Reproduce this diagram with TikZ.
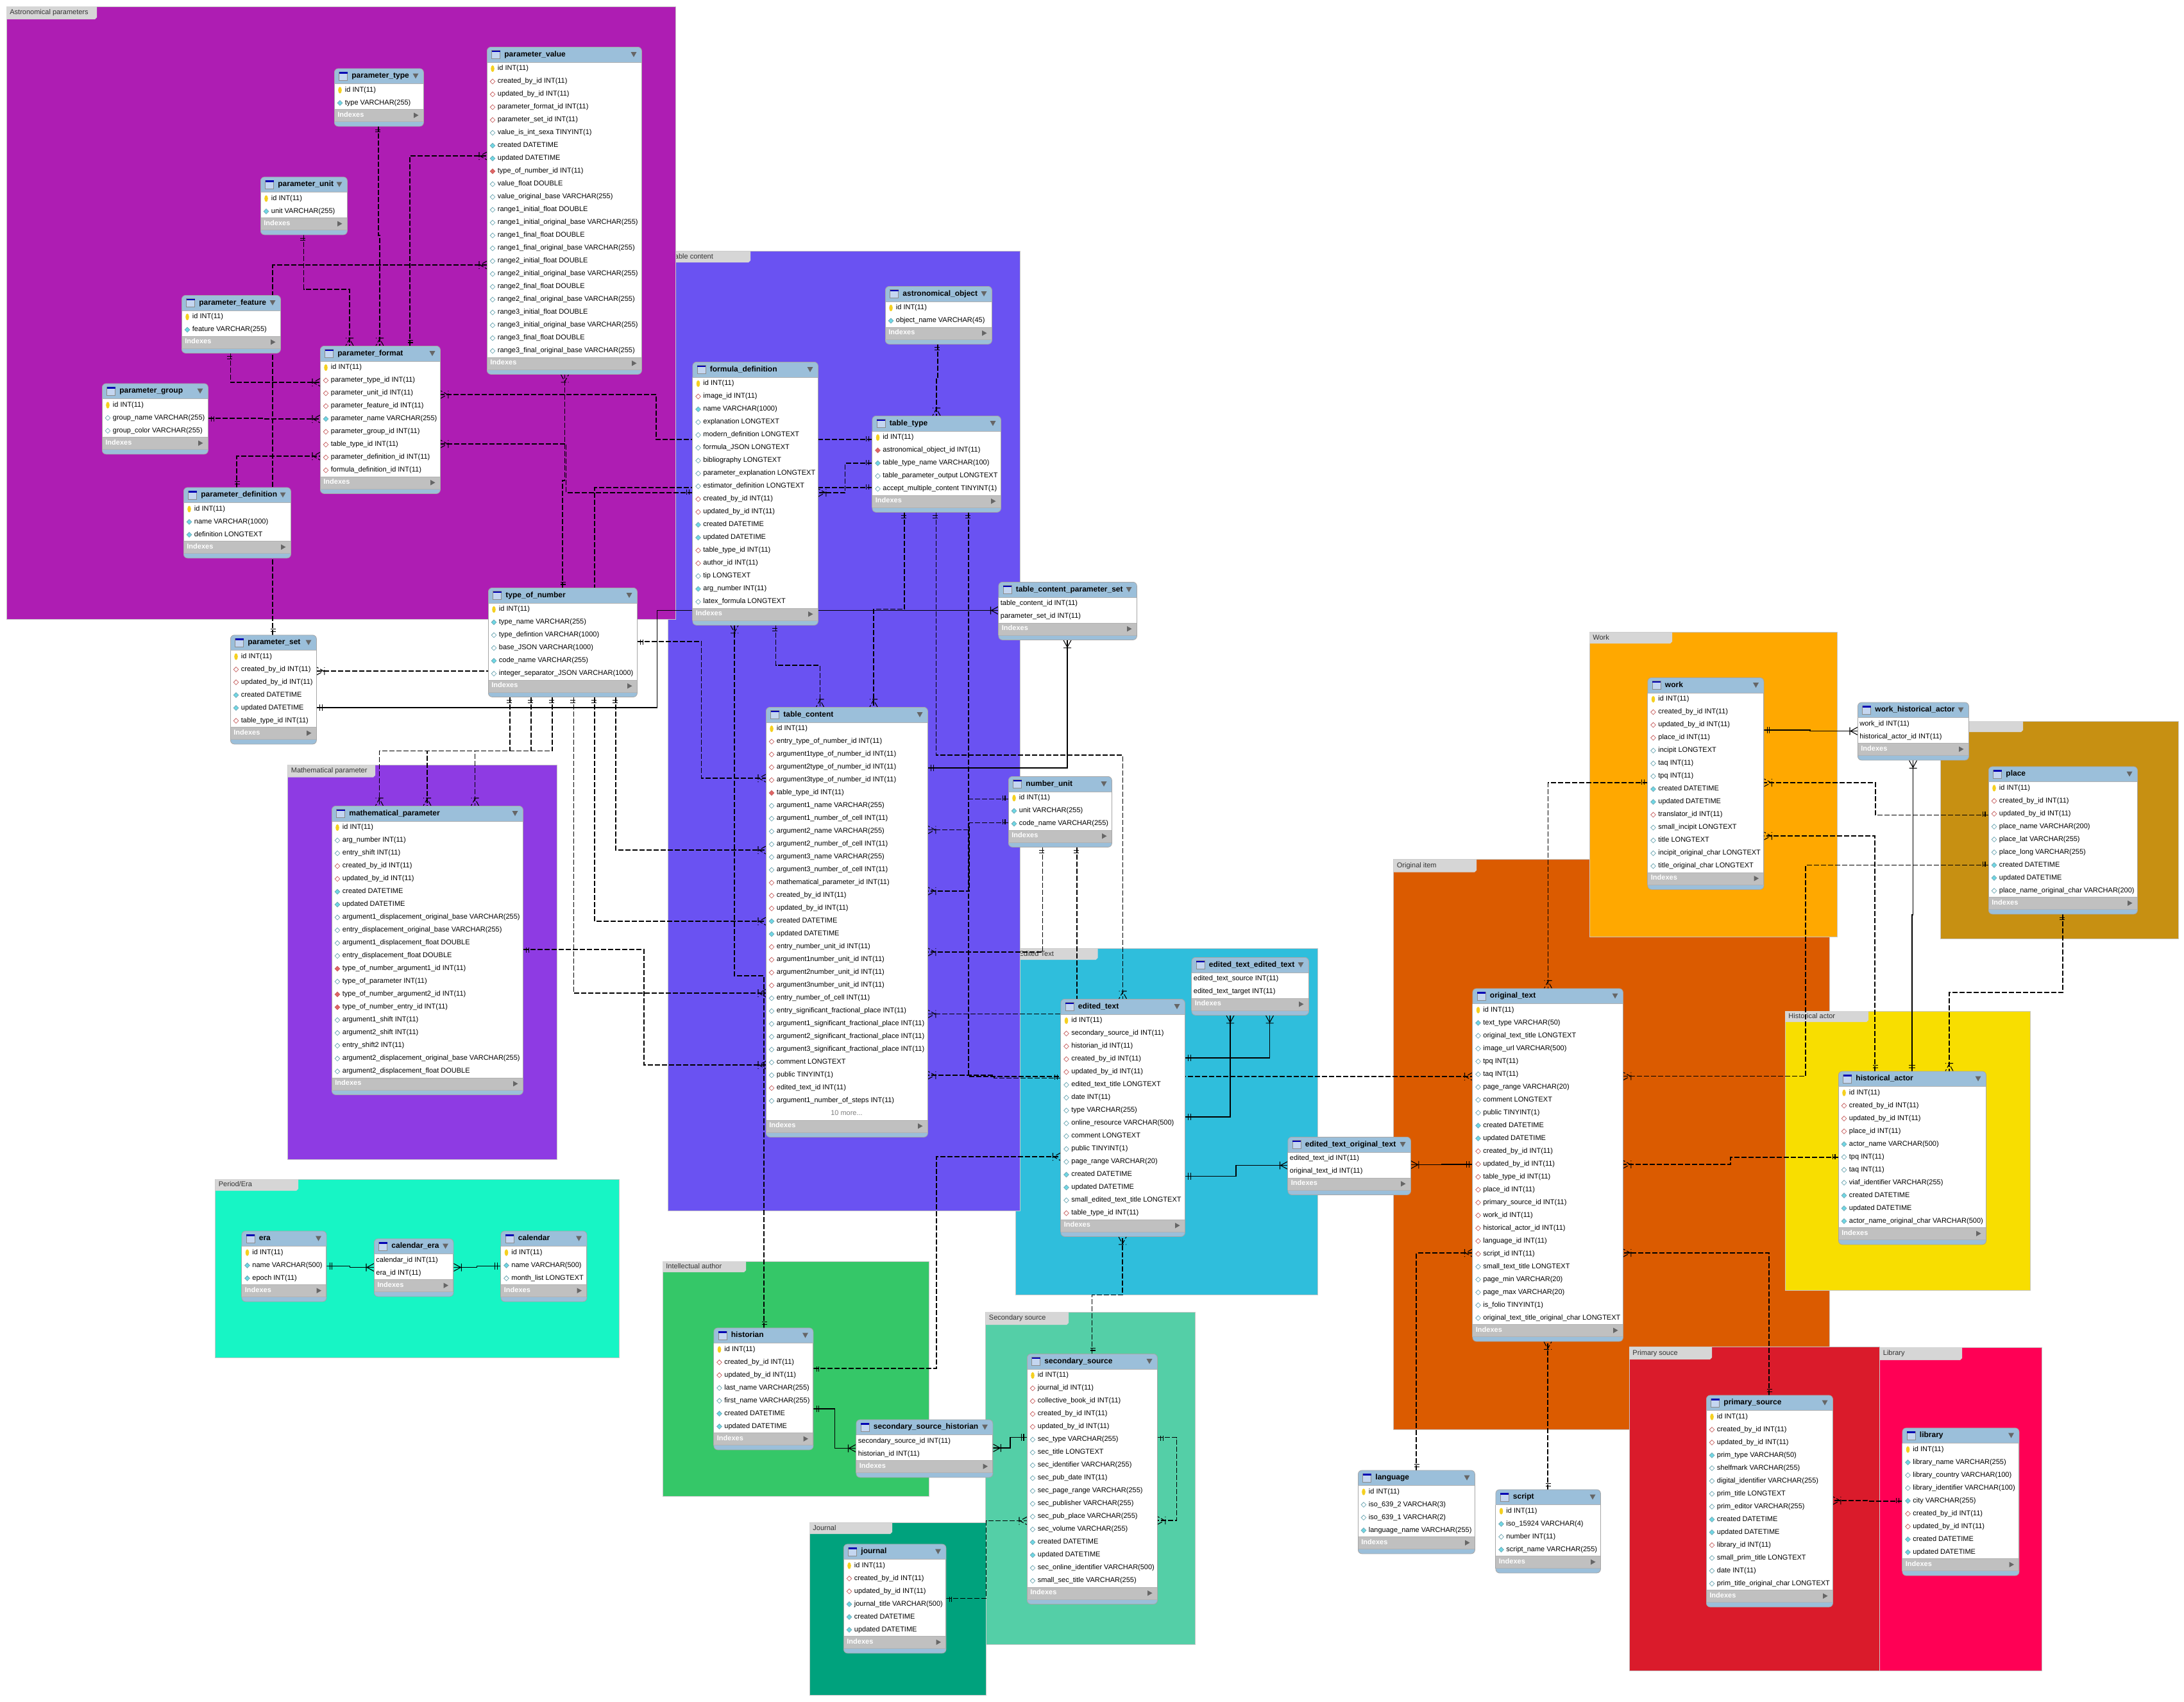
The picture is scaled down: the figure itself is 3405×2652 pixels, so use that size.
\documentclass[tikz,border=0pt]{standalone}
\usepackage{fontspec}
\setmainfont{Liberation Sans}
\usetikzlibrary{shapes.geometric}
\catcode`\_=12

\definecolor{astrocol}{HTML}{AE1DB3}
\definecolor{contentcol}{HTML}{6A52F2}
\definecolor{mathcol}{HTML}{8E3BE3}
\definecolor{eracol}{HTML}{17F5C5}
\definecolor{authorcol}{HTML}{35C768}
\definecolor{seccol}{HTML}{54CFA7}
\definecolor{journalcol}{HTML}{00A27D}
\definecolor{editedcol}{HTML}{2FBEDC}
\definecolor{origcol}{HTML}{DB5B00}
\definecolor{workcol}{HTML}{FFA800}
\definecolor{placecol}{HTML}{C79012}
\definecolor{actorcol}{HTML}{F8DE00}
\definecolor{primcol}{HTML}{DA1B2B}
\definecolor{libcol}{HTML}{FF0055}
\definecolor{headcol}{HTML}{9BBFDA}
\definecolor{idxcol}{HTML}{C0C0C0}
\definecolor{tabcol}{HTML}{D6D6D6}
\definecolor{keycol}{HTML}{F5D020}
\definecolor{fkcol}{HTML}{C86464}
\definecolor{fkfill}{HTML}{E06666}
\definecolor{nncol}{HTML}{6FA8B4}
\definecolor{nnfill}{HTML}{6FD9E6}
\definecolor{iconcol}{HTML}{C4D6F0}

\pgfdeclarelayer{grouplayer}
\pgfdeclarelayer{rellayer}
\pgfsetlayers{grouplayer,rellayer,main}

\pgfdeclarearrow{
  name=OneTip,
  setup code={\pgfarrowssettipend{0pt}\pgfarrowssetlineend{0pt}\pgfarrowssetbackend{-5pt}\pgfarrowssetvisualbackend{-5pt}},
  drawing code={
    \pgfpathmoveto{\pgfqpoint{-2.5pt}{2.6pt}}\pgfpathlineto{\pgfqpoint{-2.5pt}{-2.6pt}}
    \pgfpathmoveto{\pgfqpoint{-4.3pt}{2.6pt}}\pgfpathlineto{\pgfqpoint{-4.3pt}{-2.6pt}}
    \pgfusepathqstroke
  }
}
\pgfdeclarearrow{
  name=ManyTip,
  setup code={\pgfarrowssettipend{0pt}\pgfarrowssetlineend{0pt}\pgfarrowssetbackend{-6pt}\pgfarrowssetvisualbackend{-6pt}},
  drawing code={
    \pgfpathmoveto{\pgfqpoint{0pt}{3pt}}\pgfpathlineto{\pgfqpoint{-5.5pt}{0pt}}\pgfpathlineto{\pgfqpoint{0pt}{-3pt}}
    \pgfpathmoveto{\pgfqpoint{-6pt}{3pt}}\pgfpathlineto{\pgfqpoint{-6pt}{-3pt}}
    \pgfusepathqstroke
  }
}

\tikzset{
  rel/.style={line width=.55pt,dash pattern=on 4pt off 1.5pt,{OneTip}-{ManyTip}},
  relid/.style={line width=.55pt,{OneTip}-{ManyTip}},
  tblframe/.style={draw=black!35,fill=headcol,line width=.4pt,rounded corners=3pt,inner sep=0pt},
  tblicon/.style={draw=black!45,fill=iconcol,line width=.4pt,inner sep=0pt,minimum size=6.5pt},
  tbltitle/.style={font=\fontsize{6}{7}\selectfont\bfseries,inner sep=0pt,text height=4.4pt,text depth=1.3pt},
  tblidx/.style={font=\fontsize{5.5}{6}\selectfont\bfseries,text=white,inner sep=0pt,text height=4pt,text depth=1.2pt},
  tbltri/.style={fill=black!60},
  rowtxt/.style={font=\fontsize{5.5}{6}\selectfont,inner sep=0pt,anchor=west,text height=4pt,text depth=1.2pt},
  moretxt/.style={rowtxt,anchor=center,text=gray},
  fldk/.style={ellipse,fill=keycol,inner sep=0pt,minimum width=2.8pt,minimum height=5.2pt},
  fldr/.style={diamond,draw=fkcol,fill=white,line width=.4pt,inner sep=0pt,minimum size=4pt},
  fldR/.style={diamond,draw=fkcol,fill=fkfill,line width=.4pt,inner sep=0pt,minimum size=4pt},
  fldc/.style={diamond,draw=nncol,fill=nnfill,line width=.4pt,inner sep=0pt,minimum size=4pt},
  fldo/.style={diamond,draw=nncol,fill=white,line width=.4pt,inner sep=0pt,minimum size=4pt},
  grpbox/.style={draw=black!22,line width=.5pt},
  grptab/.style={fill=tabcol},
  grptxt/.style={font=\fontsize{5.5}{6}\selectfont,text=black!80,inner sep=0pt,anchor=west,text height=4pt,text depth=1.2pt},
}

\newcommand{\dotsmore}{...}

\newcommand{\ertable}[6]{%
\begin{scope}[shift={(#2,#3)}]
\node[tblframe,anchor=north west,minimum width=#4*.5pt,minimum height={(50+20*#5)*.5pt}] (#1) at (0,0) {};
\fill[white] (0,24) rectangle (#4,{24+20*#5});
\fill[idxcol] (0,{24+20*#5}) rectangle (#4,{43+20*#5});
\draw[black!30,line width=.3pt] (0,24) -- (#4,24) (0,{24+20*#5}) -- (#4,{24+20*#5}) (0,{43+20*#5}) -- (#4,{43+20*#5});
\draw[black!35,line width=.4pt] (0,24) -- (0,{43+20*#5}) (#4,24) -- (#4,{43+20*#5});
\node[tblicon] (#1-i) at (14,12) {};
\fill[blue!70!black] (7.5,5.5) rectangle (20.5,8);
\node[tbltitle,anchor=west] (#1-t) at (27,12) {#1};
\fill[tbltri] ({#4-16.5},8) -- ({#4-7.5},8) -- ({#4-12},16) -- cycle;
\foreach \mk/\txt [count=\i from 0] in {#6}{
  \pgfmathsetmacro\rowy{34+20*\i}
  \if\mk m\node[moretxt] (#1-r\i) at ({#4/2},\rowy) {\txt};
  \else\if\mk n\node[rowtxt] (#1-r\i) at (3,\rowy) {\txt};
  \else\node[fld\mk] (#1-m\i) at (9,\rowy) {};
  \node[rowtxt] (#1-r\i) at (16.5,\rowy) {\txt};\fi\fi
}
\node[tblidx,anchor=west] (#1-x) at (5,{33+20*#5}) {Indexes};
\fill[tbltri] ({#4-15},{29+20*#5}) -- ({#4-15},{37.5+20*#5}) -- ({#4-7.5},{33.2+20*#5}) -- cycle;
\end{scope}}

\newcommand{\ergroup}[9]{%
\begin{pgfonlayer}{grouplayer}
\path[grpbox,fill=#8] (#2,#3) rectangle (#4,#5);
\fill[grptab] (#2,#3) -- (#6,#3) -- (#6,#7-3) -- ({#6-3},#7) -- (#2,#7) -- cycle;
\node[grptxt] (#1) at ({#2+5},{(#3+#7)/2}) {#9};
\end{pgfonlayer}}

\begin{document}
\begin{tikzpicture}[x=.5pt,y=-.5pt]
\useasboundingbox (0,0) rectangle (3405,2652);

\ergroup{grpedited}{1583}{1478.5}{2054}{2018.5}{1711.5}{1496}{editedcol}{Edited Text}
\ergroup{grpcontent}{1041}{391.5}{1590}{1887}{1170}{409}{contentcol}{Table content}
\ergroup{grpastro}{10}{10}{1053}{965}{151}{30}{astrocol}{Astronomical parameters}
\ergroup{grpmath}{448.5}{1192}{868}{1807}{585}{1211.5}{mathcol}{Mathematical parameter}
\ergroup{grpera}{335.5}{1838}{965.5}{2116}{465}{1856}{eracol}{Period/Era}
\ergroup{grpauthor}{1033}{1966}{1448}{2332}{1163}{1983}{authorcol}{Intellectual author}
\ergroup{grpsecondary}{1536.5}{2045}{1863.5}{2563}{1666}{2065}{seccol}{Secondary source}
\ergroup{grpjournal}{1262}{2373.5}{1537}{2642}{1391}{2391}{journalcol}{Journal}
\ergroup{grporiginal}{2172.5}{1339.5}{2852}{2228.5}{2302}{1359.5}{origcol}{Original item}
\ergroup{grpwork}{2478}{985.5}{2864}{1460}{2607}{1003}{workcol}{Work}
\ergroup{grpplace}{3025}{1124}{3396}{1463}{3154}{1141}{placecol}{}
\ergroup{grpactor}{2783}{1576}{3165}{2011}{2913}{1593}{actorcol}{Historical actor}
\ergroup{grplibrary}{2930.5}{2100}{3183}{2604}{3059}{2120}{libcol}{Library}
\ergroup{grpprimary}{2540}{2099.5}{2930.5}{2604}{2669}{2119}{primcol}{Primary souce}

\ertable{parameter_type}{521}{106.5}{139}{2}{k/id INT(11),c/type VARCHAR(255)}
\ertable{parameter_value}{759}{73}{241}{23}{k/id INT(11),r/created_by_id INT(11),r/updated_by_id INT(11),r/parameter_format_id INT(11),r/parameter_set_id INT(11),o/value_is_int_sexa TINYINT(1),c/created DATETIME,c/updated DATETIME,R/type_of_number_id INT(11),o/value_float DOUBLE,o/value_original_base VARCHAR(255),o/range1_initial_float DOUBLE,o/range1_initial_original_base VARCHAR(255),o/range1_final_float DOUBLE,o/range1_final_original_base VARCHAR(255),o/range2_initial_float DOUBLE,o/range2_initial_original_base VARCHAR(255),o/range2_final_float DOUBLE,o/range2_final_original_base VARCHAR(255),o/range3_initial_float DOUBLE,o/range3_initial_original_base VARCHAR(255),o/range3_final_float DOUBLE,o/range3_final_original_base VARCHAR(255)}
\ertable{parameter_unit}{406}{275.5}{135}{2}{k/id INT(11),c/unit VARCHAR(255)}
\ertable{parameter_feature}{283}{460}{154}{2}{k/id INT(11),c/feature VARCHAR(255)}
\ertable{parameter_format}{499}{539}{187}{9}{k/id INT(11),r/parameter_type_id INT(11),r/parameter_unit_id INT(11),r/parameter_feature_id INT(11),c/parameter_name VARCHAR(255),r/parameter_group_id INT(11),r/table_type_id INT(11),r/parameter_definition_id INT(11),r/formula_definition_id INT(11)}
\ertable{parameter_group}{159}{597.5}{165}{3}{k/id INT(11),o/group_name VARCHAR(255),o/group_color VARCHAR(255)}
\ertable{parameter_definition}{286}{759.5}{167}{3}{k/id INT(11),c/name VARCHAR(1000),c/definition LONGTEXT}
\ertable{type_of_number}{761}{916}{232}{6}{k/id INT(11),c/type_name VARCHAR(255),o/type_defintion VARCHAR(1000),o/base_JSON VARCHAR(1000),c/code_name VARCHAR(255),o/integer_separator_JSON VARCHAR(1000)}
\ertable{parameter_set}{359}{989.5}{134}{6}{k/id INT(11),r/created_by_id INT(11),r/updated_by_id INT(11),c/created DATETIME,c/updated DATETIME,r/table_type_id INT(11)}
\ertable{mathematical_parameter}{517}{1256}{298}{20}{k/id INT(11),o/arg_number INT(11),o/entry_shift INT(11),r/created_by_id INT(11),r/updated_by_id INT(11),c/created DATETIME,c/updated DATETIME,o/argument1_displacement_original_base VARCHAR(255),o/entry_displacement_original_base VARCHAR(255),o/argument1_displacement_float DOUBLE,o/entry_displacement_float DOUBLE,R/type_of_number_argument1_id INT(11),o/type_of_parameter INT(11),R/type_of_number_argument2_id INT(11),R/type_of_number_entry_id INT(11),o/argument1_shift INT(11),o/argument2_shift INT(11),o/entry_shift2 INT(11),o/argument2_displacement_original_base VARCHAR(255),o/argument2_displacement_float DOUBLE}
\ertable{astronomical_object}{1380}{446}{166}{2}{k/id INT(11),c/object_name VARCHAR(45)}
\ertable{formula_definition}{1079.5}{564}{195.5}{18}{k/id INT(11),r/image_id INT(11),c/name VARCHAR(1000),o/explanation LONGTEXT,o/modern_definition LONGTEXT,o/formula_JSON LONGTEXT,o/bibliography LONGTEXT,o/parameter_explanation LONGTEXT,o/estimator_definition LONGTEXT,r/created_by_id INT(11),r/updated_by_id INT(11),c/created DATETIME,c/updated DATETIME,r/table_type_id INT(11),r/author_id INT(11),o/tip LONGTEXT,c/arg_number INT(11),o/latex_formula LONGTEXT}
\ertable{table_type}{1359.5}{648}{200.5}{5}{k/id INT(11),R/astronomical_object_id INT(11),c/table_type_name VARCHAR(100),o/table_parameter_output LONGTEXT,o/accept_multiple_content TINYINT(1)}
\ertable{table_content_parameter_set}{1556.5}{907}{215.5}{2}{n/table_content_id INT(11),n/parameter_set_id INT(11)}
\ertable{table_content}{1194}{1102}{252}{31}{k/id INT(11),r/entry_type_of_number_id INT(11),r/argument1type_of_number_id INT(11),r/argument2type_of_number_id INT(11),r/argument3type_of_number_id INT(11),R/table_type_id INT(11),o/argument1_name VARCHAR(255),o/argument1_number_of_cell INT(11),o/argument2_name VARCHAR(255),o/argument2_number_of_cell INT(11),o/argument3_name VARCHAR(255),o/argument3_number_of_cell INT(11),r/mathematical_parameter_id INT(11),r/created_by_id INT(11),r/updated_by_id INT(11),c/created DATETIME,c/updated DATETIME,r/entry_number_unit_id INT(11),r/argument1number_unit_id INT(11),r/argument2number_unit_id INT(11),r/argument3number_unit_id INT(11),o/entry_number_of_cell INT(11),o/entry_significant_fractional_place INT(11),o/argument1_significant_fractional_place INT(11),o/argument2_significant_fractional_place INT(11),o/argument3_significant_fractional_place INT(11),o/comment LONGTEXT,o/public TINYINT(1),r/edited_text_id INT(11),o/argument1_number_of_steps INT(11),m/10 more\dotsmore}
\ertable{number_unit}{1572}{1210}{161}{3}{k/id INT(11),c/unit VARCHAR(255),c/code_name VARCHAR(255)}
\ertable{edited_text}{1653.5}{1557}{193.5}{16}{k/id INT(11),r/secondary_source_id INT(11),r/historian_id INT(11),r/created_by_id INT(11),r/updated_by_id INT(11),o/edited_text_title LONGTEXT,o/date INT(11),o/type VARCHAR(255),o/online_resource VARCHAR(500),o/comment LONGTEXT,o/public TINYINT(1),o/page_range VARCHAR(20),c/created DATETIME,c/updated DATETIME,o/small_edited_text_title LONGTEXT,r/table_type_id INT(11)}
\ertable{edited_text_edited_text}{1857.5}{1492}{182.5}{2}{n/edited_text_source INT(11),n/edited_text_target INT(11)}
\ertable{edited_text_original_text}{2007.5}{1772}{191.5}{2}{n/edited_text_id INT(11),n/original_text_id INT(11)}
\ertable{work}{2568.5}{1056}{181}{14}{k/id INT(11),r/created_by_id INT(11),r/updated_by_id INT(11),r/place_id INT(11),o/incipit LONGTEXT,o/taq INT(11),o/tpq INT(11),c/created DATETIME,c/updated DATETIME,r/translator_id INT(11),o/small_incipit LONGTEXT,o/title LONGTEXT,o/incipit_original_char LONGTEXT,o/title_original_char LONGTEXT}
\ertable{work_historical_actor}{2896}{1094.5}{173}{2}{n/work_id INT(11),n/historical_actor_id INT(11)}
\ertable{place}{3100}{1194.5}{232}{9}{k/id INT(11),r/created_by_id INT(11),r/updated_by_id INT(11),o/place_name VARCHAR(200),o/place_lat VARCHAR(255),o/place_long VARCHAR(255),c/created DATETIME,c/updated DATETIME,o/place_name_original_char VARCHAR(200)}
\ertable{original_text}{2295.5}{1540.5}{234.5}{25}{k/id INT(11),c/text_type VARCHAR(50),o/original_text_title LONGTEXT,o/image_url VARCHAR(500),o/tpq INT(11),o/taq INT(11),o/page_range VARCHAR(20),o/comment LONGTEXT,o/public TINYINT(1),c/created DATETIME,c/updated DATETIME,r/created_by_id INT(11),r/updated_by_id INT(11),r/table_type_id INT(11),r/place_id INT(11),r/primary_source_id INT(11),r/work_id INT(11),r/historical_actor_id INT(11),r/language_id INT(11),r/script_id INT(11),o/small_text_title LONGTEXT,o/page_min VARCHAR(20),o/page_max VARCHAR(20),o/is_folio TINYINT(1),o/original_text_title_original_char LONGTEXT}
\ertable{historical_actor}{2866}{1669.5}{230}{11}{k/id INT(11),r/created_by_id INT(11),r/updated_by_id INT(11),r/place_id INT(11),c/actor_name VARCHAR(500),o/tpq INT(11),o/taq INT(11),o/viaf_identifier VARCHAR(255),c/created DATETIME,c/updated DATETIME,c/actor_name_original_char VARCHAR(500)}
\ertable{historian}{1112.5}{2069.5}{155}{7}{k/id INT(11),r/created_by_id INT(11),r/updated_by_id INT(11),o/last_name VARCHAR(255),o/first_name VARCHAR(255),c/created DATETIME,c/updated DATETIME}
\ertable{secondary_source_historian}{1334.5}{2212.5}{213}{2}{n/secondary_source_id INT(11),n/historian_id INT(11)}
\ertable{secondary_source}{1601}{2110}{203}{17}{k/id INT(11),r/journal_id INT(11),r/collective_book_id INT(11),r/created_by_id INT(11),r/updated_by_id INT(11),o/sec_type VARCHAR(255),o/sec_title LONGTEXT,o/sec_identifier VARCHAR(255),o/sec_pub_date INT(11),o/sec_page_range VARCHAR(255),o/sec_publisher VARCHAR(255),o/sec_pub_place VARCHAR(255),o/sec_volume VARCHAR(255),c/created DATETIME,c/updated DATETIME,o/sec_online_identifier VARCHAR(500),o/small_sec_title VARCHAR(255)}
\ertable{journal}{1315}{2406.5}{159.5}{6}{k/id INT(11),r/created_by_id INT(11),r/updated_by_id INT(11),c/journal_title VARCHAR(500),c/created DATETIME,c/updated DATETIME}
\ertable{language}{2117}{2291.5}{182}{4}{k/id INT(11),o/iso_639_2 VARCHAR(3),o/iso_639_1 VARCHAR(2),c/language_name VARCHAR(255)}
\ertable{script}{2331.5}{2321.5}{163.5}{4}{k/id INT(11),c/iso_15924 VARCHAR(4),o/number INT(11),c/script_name VARCHAR(255)}
\ertable{primary_source}{2660}{2174.5}{197}{14}{k/id INT(11),r/created_by_id INT(11),r/updated_by_id INT(11),c/prim_type VARCHAR(50),o/shelfmark VARCHAR(255),o/digital_identifier VARCHAR(255),o/prim_title LONGTEXT,o/prim_editor VARCHAR(255),c/created DATETIME,c/updated DATETIME,r/library_id INT(11),o/small_prim_title LONGTEXT,o/date INT(11),o/prim_title_original_char LONGTEXT}
\ertable{library}{2965.5}{2225.5}{182}{9}{k/id INT(11),c/library_name VARCHAR(255),o/library_country VARCHAR(100),o/library_identifier VARCHAR(100),c/city VARCHAR(255),r/created_by_id INT(11),r/updated_by_id INT(11),c/created DATETIME,c/updated DATETIME}
\ertable{era}{376.5}{1918.5}{132}{3}{k/id INT(11),c/name VARCHAR(500),c/epoch INT(11)}
\ertable{calendar_era}{583}{1930.5}{123.5}{2}{n/calendar_id INT(11),n/era_id INT(11)}
\ertable{calendar}{780.5}{1918.5}{134}{3}{k/id INT(11),c/name VARCHAR(500),o/month_list LONGTEXT}

\begin{pgfonlayer}{rellayer}
\draw[rel] (parameter_type.south -| 590,0) -- (590,367) -- (592,367) -- (parameter_format.north -| 592,0);
\draw[rel] (parameter_unit.south -| 473.5,0) |- (545,451) -- (parameter_format.north -| 545,0);
\draw[rel] (parameter_format.north -| 639,0) |- (parameter_value.west |- 0,243);
\draw[rel] (parameter_feature.south -| 359.5,0) |- (parameter_format.west |- 0,596);
\draw[rel] (parameter_group.east |- 0,652) -- (410,652) -- (410,653) -- (parameter_format.west |- 0,653);
\draw[rel] (parameter_definition.north -| 369,0) |- (parameter_format.west |- 0,711);
\draw[rel] (parameter_set.north -| 425,0) |- (parameter_value.west |- 0,413);
\draw[rel] (table_type.west |- 0,685) -- (1023,685) -- (1023,615) -- (parameter_format.east |- 0,615);
\draw[rel] (formula_definition.west |- 0,768) -- (882.5,768) -- (882.5,692) -- (parameter_format.east |- 0,692);
\draw[rel] (table_type.west |- 0,760) -- (927,760) -- (927,1046) -- (parameter_set.east |- 0,1046);
\draw[rel] (type_of_number.north -| 877,0) -- (877,749) -- (880.5,749) -- (parameter_value.south -| 880.5,0);
\draw[rel] (table_type.west |- 0,722) -- (1317.5,722) -- (1317.5,768) -- (formula_definition.east |- 0,768);
\draw[rel] (astronomical_object.south -| 1462,0) -- (1462,590.5) -- (1460,590.5) -- (table_type.north -| 1460,0);
\draw[rel] (table_type.south -| 1410,0) -- (1410,949.5) -- (1362,949.5) -- (table_content.north -| 1362,0);
\draw[rel] (table_type.south -| 1459.5,0) -- (1459.5,1177) -- (1750.5,1177) -- (edited_text.north -| 1750.5,0);
\draw[rel] (table_type.south -| 1510,0) -- (1510,1678) -- (original_text.west |- 0,1678);
\draw[rel] (formula_definition.south -| 1209.5,0) -- (1209.5,1037) -- (1278.5,1037) -- (table_content.north -| 1278.5,0);
\draw[rel] (historian.north -| 1191,0) -- (1191,1521) -- (1145,1521) -- (formula_definition.south -| 1145,0);
\draw[rel] (number_unit.west |- 0,1245.5) -- (1510,1245.5) -- (1510,1293.5) -- (table_content.east |- 0,1293.5);
\draw[rel] (number_unit.west |- 0,1282.5) -- (1511,1282.5) -- (1511,1389) -- (table_content.east |- 0,1389);
\draw[rel] (number_unit.south -| 1625.5,0) -- (1625.5,1484) -- (table_content.east |- 0,1484);
\draw[rel] (number_unit.south -| 1679,0) -- (1679,1580.5) -- (table_content.east |- 0,1580.5);
\draw[rel] (edited_text.west |- 0,1680.5) -- (1550,1680.5) -- (1550,1676) -- (table_content.east |- 0,1676);
\draw[rel] (type_of_number.east |- 0,1000) -- (1093.5,1000) -- (1093.5,1213) -- (table_content.west |- 0,1213);
\draw[rel] (type_of_number.south -| 795,0) -- (795,1170.5) -- (591.5,1170.5) -- (mathematical_parameter.north -| 591.5,0);
\draw[rel] (type_of_number.south -| 828,0) -- (828,1170.5) -- (666,1170.5) -- (mathematical_parameter.north -| 666,0);
\draw[rel] (type_of_number.south -| 861,0) -- (861,1170.5) -- (740.5,1170.5) -- (mathematical_parameter.north -| 740.5,0);
\draw[rel] (type_of_number.south -| 894.5,0) -- (894.5,1548) -- (table_content.west |- 0,1548);
\draw[rel] (type_of_number.south -| 927,0) -- (927,1436) -- (table_content.west |- 0,1436);
\draw[rel] (type_of_number.south -| 960,0) -- (960,1325) -- (table_content.west |- 0,1325);
\draw[rel] (mathematical_parameter.east |- 0,1480) -- (1004,1480) -- (1004,1660) -- (table_content.west |- 0,1660);
\draw[relid] (parameter_set.east |- 0,1103) -- (1024.5,1103) -- (1024.5,951.5) -- (table_content_parameter_set.west |- 0,951.5);
\draw[relid] (table_content.east |- 0,1197) -- (1664,1197) -- (table_content_parameter_set.south -| 1664,0);
\draw[relid] (edited_text.east |- 0,1649) -- (1979.5,1649) -- (edited_text_edited_text.south -| 1979.5,0);
\draw[relid] (edited_text.east |- 0,1741) -- (1918,1741) -- (edited_text_edited_text.south -| 1918,0);
\draw[relid] (edited_text.east |- 0,1833.5) -- (1927,1833.5) -- (1927,1816.5) -- (edited_text_original_text.west |- 0,1816.5);
\draw[rel] (historian.east |- 0,2133) -- (1460,2133) -- (1460,1803) -- (edited_text.west |- 0,1803);
\draw[rel] (secondary_source.north -| 1702.5,0) -- (1702.5,2018.5) -- (1750,2018.5) -- (edited_text.south -| 1750,0);
\draw[relid] (historian.east |- 0,2196) -- (1301.5,2196) -- (1301.5,2257.5) -- (secondary_source_historian.west |- 0,2257.5);
\draw[relid] (secondary_source.west |- 0,2240.5) -- (1575,2240.5) -- (1575,2257) -- (secondary_source_historian.east |- 0,2257);
\draw[rel] (secondary_source.east |- 0,2240.5) -- (1834.5,2240.5) -- (1834.5,2370) -- (secondary_source.east |- 0,2370);
\draw[rel] (journal.east |- 0,2491.5) -- (1537.5,2491.5) -- (1537.5,2370.5) -- (secondary_source.west |- 0,2370.5);
\draw[relid] (era.east |- 0,1973.5) -- (545.5,1973.5) -- (545.5,1975.5) -- (calendar_era.west |- 0,1975.5);
\draw[relid] (calendar.west |- 0,1973.5) -- (743.5,1973.5) -- (743.5,1975.5) -- (calendar_era.east |- 0,1975.5);
\draw[relid] (work.east |- 0,1138) -- (2822,1138) -- (2822,1139.5) -- (work_historical_actor.west |- 0,1139.5);
\draw[relid] (historical_actor.north -| 2981,0) -- (2981,1426) -- (2982.5,1426) -- (work_historical_actor.south -| 2982.5,0);
\draw[rel] (work.west |- 0,1220) -- (2413.5,1220) -- (original_text.north -| 2413.5,0);
\draw[rel] (place.west |- 0,1270.5) -- (2924,1270.5) -- (2924,1220) -- (work.east |- 0,1220);
\draw[rel] (historical_actor.north -| 2923,0) -- (2923,1303) -- (work.east |- 0,1303);
\draw[rel] (place.west |- 0,1348.5) -- (2815,1348.5) -- (2815,1677.5) -- (original_text.east |- 0,1677.5);
\draw[rel] (place.south -| 3216,0) -- (3216,1547) -- (3039,1547) -- (historical_actor.north -| 3039,0);
\draw[relid] (original_text.west |- 0,1815) -- (2247.5,1815) -- (2247.5,1815.5) -- (edited_text_original_text.east |- 0,1815.5);
\draw[rel] (historical_actor.west |- 0,1804) -- (2698,1804) -- (2698,1815) -- (original_text.east |- 0,1815);
\draw[rel] (language.north -| 2208,0) -- (2208,1953) -- (original_text.west |- 0,1953);
\draw[rel] (primary_source.north -| 2758,0) -- (2758,1953) -- (original_text.east |- 0,1953);
\draw[rel] (script.north -| 2413,0) -- (original_text.south -| 2413,0);
\draw[rel] (library.west |- 0,2340) -- (2911.5,2340) -- (2911.5,2339) -- (primary_source.east |- 0,2339);
\end{pgfonlayer}
\end{tikzpicture}
\end{document}
